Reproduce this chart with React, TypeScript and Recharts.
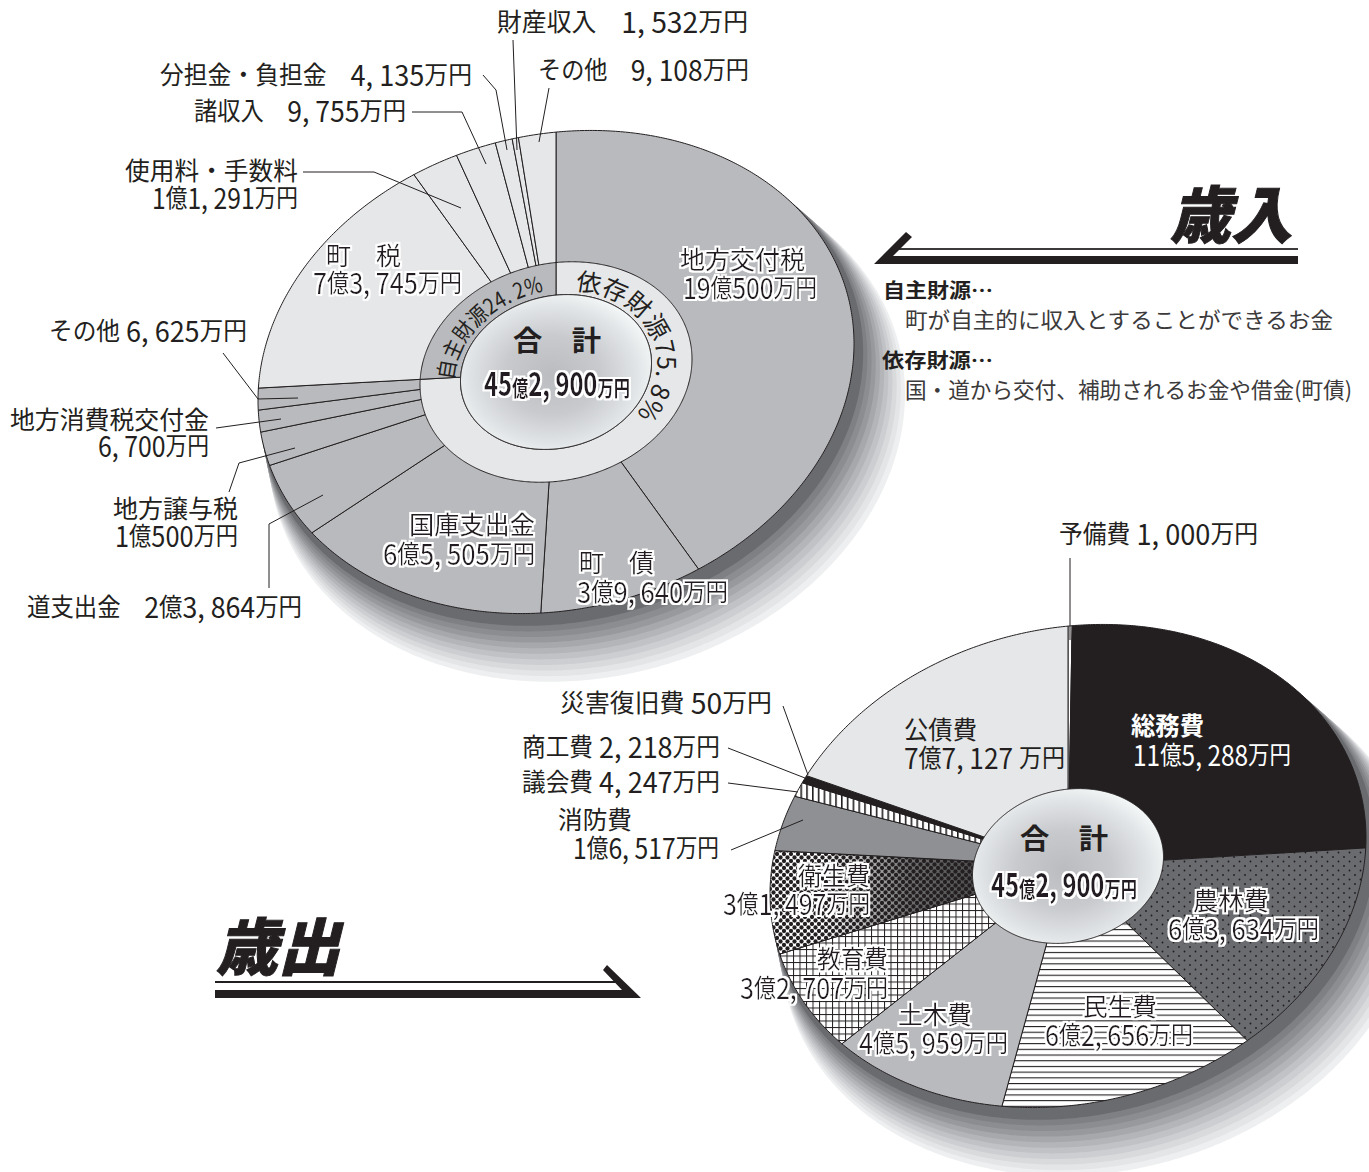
import React from "react";
import { Cell, Pie, PieChart } from "recharts";

const WIDTH = 1369;
const HEIGHT = 1172;
const INK = "#231f20";
const MID = "#b9babd";
const LIGHT = "#e6e7e9";
const FONT = '"Noto Sans CJK JP", "Noto Sans", sans-serif';
const DIGIT_FONT = '"Liberation Sans Narrow", "Noto Sans CJK JP", sans-serif';

// 歳入 (万円)
const revenueNames = ["地方交付税", "町債", "国庫支出金", "道支出金", "地方譲与税", "地方消費税交付金", "その他", "町税", "使用料・手数料", "諸収入", "分担金・負担金", "財産収入", "その他"];
const revenueValues = [190500, 39640, 65505, 23864, 10500, 6700, 6625, 73745, 11291, 9755, 4135, 1532, 9108];
const revenueFills = [MID, MID, MID, MID, MID, MID, MID, LIGHT, LIGHT, LIGHT, LIGHT, LIGHT, LIGHT];

const sourceNames = ["依存財源", "自主財源"];
const sourceValues = [343334, 109566];
const sourceFills = [LIGHT, MID];

// 歳出 (万円)
const spendingNames = ["予備費", "総務費", "農林費", "民生費", "土木費", "教育費", "衛生費", "消防費", "議会費", "商工費", "災害復旧費", "公債費"];
const spendingValues = [1000, 115288, 63634, 62656, 45959, 32707, 31497, 16517, 4247, 2218, 50, 77127];
const spendingFills = ["#ffffff", INK, "url(#speckle)", "url(#hlines)", MID, "url(#grid)", "url(#halftone)", "#8f9094", "url(#vlines)", INK, "#ffffff", LIGHT];

const totalValue = [452900];

const toTable = (names: string[], values: number[]) => values.map((value, i) => ({ name: names[i], value }));

// 傾いた円盤: 縦に潰し、右を上げる向きに剪断する
const SQUASH = 0.805;
const SHEAR = 0.095;
const rad = (d: number) => (d * Math.PI) / 180;

function discPoint(cx: number, cy: number, r: number, clockwise: number) {
  const s = Math.sin(rad(clockwise));
  const c = Math.cos(rad(clockwise));
  return `${(cx + r * s).toFixed(2)} ${(cy - SQUASH * r * c - SHEAR * r * s).toFixed(2)}`;
}

function discArc(cx: number, cy: number, r: number, from: number, to: number) {
  const pts: string[] = [];
  const steps = Math.max(1, Math.ceil(Math.abs(to - from) * 2));
  for (let i = 0; i <= steps; i++) pts.push(discPoint(cx, cy, r, from + ((to - from) * i) / steps));
  return pts;
}

function TiltedSector(props: any) {
  const { cx, cy, innerRadius, outerRadius, startAngle, endAngle, fill, stroke } = props;
  const from = 90 - startAngle;
  const to = 90 - endAngle;
  const whole = to - from >= 359.99;
  const outer = discArc(cx, cy, outerRadius, from, to);
  const inner = innerRadius > 0 ? discArc(cx, cy, innerRadius, to, from) : [`${cx} ${cy}`];
  const pts = whole ? outer : [...outer, ...inner];
  return <path d={`M ${pts.join(" L ")} Z`} fill={fill} stroke={stroke ?? INK} strokeWidth={1} strokeLinejoin="round" />;
}

const shadowBands = ["#eeeff0", "#e4e5e7", "#d9dadc", "#cdced1", "#c1c2c5", "#b4b5b8", "#a6a8ab", "#98999c", "#8b8d90", "#7f8084", "#6a6b6f"];

function DiscShadow({ cx, cy }: { cx: number; cy: number }) {
  return (
    <g>
      {shadowBands.map((color, i) => {
        const t = 1 - (i * 0.82) / (shadowBands.length - 1);
        const pts = discArc(cx + 31 * t, cy + 52 * t, 298 + 20 * t, 0, 360);
        return <path key={color} d={`M ${pts.join(" L ")} Z`} fill={color} />;
      })}
    </g>
  );
}

// 数字は細長い書体で漢字より少し大きく組む
function runs(text: string, size: number, weight: number) {
  const digitSize = size * 1.14;
  const drop = size * 0.09;
  let shifted = false;
  return text.split(/([0-9,. ]*[0-9][0-9,. ]*)/).filter(Boolean).map((part, i) => {
    const isDigits = /[0-9]/.test(part);
    let dy = 0;
    if (isDigits && !shifted) dy = drop;
    if (!isDigits && shifted) dy = -drop;
    shifted = isDigits;
    return (
      <tspan key={i} dy={dy} fontFamily={isDigits ? DIGIT_FONT : FONT} fontSize={isDigits ? digitSize : size} fontWeight={weight}>
        {part}
      </tspan>
    );
  });
}

function Label({ x, y, w, text, size = 25, halo, color = INK, weight = 400 }: any) {
  return (
    <text x={x} y={y} textLength={w} lengthAdjust="spacingAndGlyphs" fill={color} filter={halo ? "url(#halo)" : undefined}>
      {runs(text, size, weight)}
    </text>
  );
}

function Leader({ points }: { points: string }) {
  return <polyline points={points} fill="none" stroke={INK} strokeWidth={1} />;
}

function TotalText({ x, y, w }: { x: number; y: number; w: number }) {
  return (
    <text x={x} y={y} textLength={w} lengthAdjust="spacingAndGlyphs" fontWeight={700} fill={INK} filter="url(#halo)">
      <tspan fontFamily={DIGIT_FONT} fontSize={32}>45</tspan>
      <tspan fontFamily={FONT} fontSize={22}>億</tspan>
      <tspan fontFamily={DIGIT_FONT} fontSize={32}>2, 900</tspan>
      <tspan fontFamily={FONT} fontSize={22}>万円</tspan>
    </text>
  );
}

function Heading({ x, y, w, text }: { x: number; y: number; w: number; text: string }) {
  return (
    <text
      transform={`translate(${x} ${y}) skewX(-14)`}
      textLength={w}
      lengthAdjust="spacingAndGlyphs"
      fontFamily={FONT}
      fontWeight={900}
      fontSize={62}
      fill={INK}
      stroke={INK}
      strokeWidth={1}
    >
      {text}
    </text>
  );
}

export default function App() {
  return (
    <div style={{ position: "absolute", left: 0, top: 0, width: WIDTH, height: HEIGHT, overflow: "hidden", background: "#ffffff" }}>
      <PieChart width={WIDTH} height={HEIGHT} margin={{ top: 0, right: 0, bottom: 0, left: 0 }}>
        <defs>
          <radialGradient id="hub" cx="0.48" cy="0.52" r="0.56">
            <stop offset="0" stopColor="#bbbcbf" />
            <stop offset="0.45" stopColor="#c8cacd" />
            <stop offset="0.8" stopColor="#e2e5e7" />
            <stop offset="1" stopColor="#f5f8f8" />
          </radialGradient>
          <pattern id="speckle" patternUnits="userSpaceOnUse" width="11" height="9">
            <rect width="11" height="9" fill="#6a6b6f" />
            <circle cx="2" cy="2" r="0.9" fill="#1c1a1b" />
            <circle cx="7.5" cy="6.5" r="0.9" fill="#1c1a1b" />
          </pattern>
          <pattern id="hlines" patternUnits="userSpaceOnUse" width="8" height="5.7">
            <rect width="8" height="5.7" fill="#ffffff" />
            <rect width="8" height="1.1" fill={INK} />
          </pattern>
          <pattern id="vlines" patternUnits="userSpaceOnUse" width="5.8" height="8">
            <rect width="5.8" height="8" fill="#ffffff" />
            <rect width="1.6" height="8" fill={INK} />
          </pattern>
          <pattern id="grid" patternUnits="userSpaceOnUse" width="6.5" height="6.5">
            <rect width="6.5" height="6.5" fill="#ffffff" />
            <rect width="6.5" height="1" fill={INK} />
            <rect width="1" height="6.5" fill={INK} />
          </pattern>
          <pattern id="dots" patternUnits="userSpaceOnUse" width="7" height="7">
            <circle cx="0" cy="0" r="2.15" fill={INK} />
            <circle cx="7" cy="0" r="2.15" fill={INK} />
            <circle cx="0" cy="7" r="2.15" fill={INK} />
            <circle cx="7" cy="7" r="2.15" fill={INK} />
            <circle cx="3.5" cy="3.5" r="2.15" fill={INK} />
          </pattern>
          <linearGradient id="fade" x1="0" y1="0" x2="1" y2="0">
            <stop offset="0" stopColor="#ffffff" />
            <stop offset="0.25" stopColor="#ffffff" />
            <stop offset="0.65" stopColor="#6e6e70" />
            <stop offset="1" stopColor="#4a4a4c" />
          </linearGradient>
          <pattern id="halftone" patternUnits="userSpaceOnUse" x="770" y="840" width="215" height="130">
            <rect width="215" height="130" fill="url(#fade)" />
            <rect width="215" height="130" fill="url(#dots)" />
          </pattern>
        </defs>

        <DiscShadow cx={556} cy={372} />
        <DiscShadow cx={1068} cy={866} />

        <Pie data={toTable(revenueNames, revenueValues)} dataKey="value" cx={556} cy={372} innerRadius={0} outerRadius={298} startAngle={90} endAngle={-270} stroke={INK} shape={TiltedSector} isAnimationActive={false}>
          {revenueFills.map((fill, i) => <Cell key={i} fill={fill} />)}
        </Pie>
        <Pie data={toTable(sourceNames, sourceValues)} dataKey="value" cx={556} cy={372} innerRadius={95.5} outerRadius={136} startAngle={90} endAngle={-270} stroke={INK} shape={TiltedSector} isAnimationActive={false}>
          {sourceFills.map((fill, i) => <Cell key={i} fill={fill} />)}
        </Pie>
        <Pie data={toTable(["合計"], totalValue)} dataKey="value" cx={556} cy={372} innerRadius={0} outerRadius={95.5} startAngle={90} endAngle={-270} fill="url(#hub)" stroke={INK} shape={TiltedSector} isAnimationActive={false} />

        <Pie data={toTable(spendingNames, spendingValues)} dataKey="value" cx={1068} cy={866} innerRadius={0} outerRadius={298} startAngle={90} endAngle={-270} stroke={INK} shape={TiltedSector} isAnimationActive={false}>
          {spendingFills.map((fill, i) => <Cell key={i} fill={fill} />)}
        </Pie>
        <Pie data={toTable(["合計"], totalValue)} dataKey="value" cx={1068} cy={866} innerRadius={0} outerRadius={95.5} startAngle={90} endAngle={-270} fill="url(#hub)" stroke={INK} shape={TiltedSector} isAnimationActive={false} />
      </PieChart>

      {/* Pie は子要素の最前面に描かれるので、文字と引き出し線は別の SVG に置く */}
      <svg width={WIDTH} height={HEIGHT} style={{ position: "absolute", left: 0, top: 0, pointerEvents: "none" }}>
        <defs>
          <path id="dependentArc" d={`M ${discArc(556, 372, 101, 11, 135).join(" L ")}`} />
          <path id="ownArc" d={`M ${discArc(556, 372, 102, 271, 356).join(" L ")}`} />
          {/* 字の周りの白い縁取り */}
          <filter id="halo" x="-10%" y="-30%" width="120%" height="160%">
            <feMorphology in="SourceAlpha" operator="dilate" radius="2.2" result="grown" />
            <feFlood floodColor="#ffffff" />
            <feComposite in2="grown" operator="in" result="edge" />
            <feMerge>
              <feMergeNode in="edge" />
              <feMergeNode in="SourceGraphic" />
            </feMerge>
          </filter>
        </defs>

        {/* 歳入の引き出し線 */}
        <Leader points="513,40 517,150" />
        <Leader points="549,88 539,142" />
        <Leader points="483,75 496,90 507,150" />
        <Leader points="412,112 462,112 486,164" />
        <Leader points="303,172 374,172 461,208" />
        <Leader points="223,353 258,399 298,398" />
        <Leader points="216,428 281,419" />
        <Leader points="229,492 239,463 295,448" />
        <Leader points="269,588 269,524 323,495" />

        {/* 歳出の引き出し線 */}
        <Leader points="1070,558 1070,640" />
        <Leader points="783,706 808,775" />
        <Leader points="728,748 805,778" />
        <Leader points="728,783 798,792" />
        <Leader points="731,850 803,820" />

        <Label x={497} y={31} w={251} text="財産収入　1, 532万円" />
        <Label x={538} y={79} w={211} text="その他　9, 108万円" />
        <Label x={160} y={84} w={312} text="分担金・負担金　4, 135万円" />
        <Label x={194} y={120} w={212} text="諸収入　9, 755万円" />
        <Label x={125} y={180} w={173} text="使用料・手数料" />
        <Label x={152} y={207} w={146} text="1億1, 291万円" />
        <Label x={49} y={340} w={198} text="その他 6, 625万円" />
        <Label x={10} y={429} w={199} text="地方消費税交付金" />
        <Label x={98} y={455} w={111} text="6, 700万円" />
        <Label x={113} y={518} w={125} text="地方譲与税" />
        <Label x={115} y={545} w={123} text="1億500万円" />
        <Label x={27} y={616} w={275} text="道支出金　2億3, 864万円" />

        <Label x={326} y={265} w={75} text="町　税" halo />
        <Label x={313} y={292} w={149} text="7億3, 745万円" halo />
        <Label x={680} y={269} w={125} text="地方交付税" halo />
        <Label x={683} y={297} w={134} text="19億500万円" halo />
        <Label x={409} y={534} w={126} text="国庫支出金" halo />
        <Label x={383} y={563} w={152} text="6億5, 505万円" halo />
        <Label x={579} y={572} w={75} text="町　債" halo />
        <Label x={577} y={601} w={151} text="3億9, 640万円" halo />

        <text fontFamily={FONT} fontSize={25} fill={INK}>
          <textPath href="#dependentArc">依存財源75. 8%</textPath>
        </text>
        <text fontFamily={FONT} fontSize={22} fill={INK} textLength={136} lengthAdjust="spacingAndGlyphs">
          <textPath href="#ownArc">自主財源24. 2%</textPath>
        </text>

        <Label x={513} y={351} w={88} text="合　計" size={28} weight={700} />
        <TotalText x={484} y={396} w={146} />

        <Label x={1059} y={543} w={199} text="予備費 1, 000万円" />
        <Label x={560} y={712} w={212} text="災害復旧費 50万円" />
        <Label x={522} y={756} w={198} text="商工費 2, 218万円" />
        <Label x={522} y={791} w={198} text="議会費 4, 247万円" />
        <Label x={558} y={829} w={74} text="消防費" />
        <Label x={573} y={857} w={146} text="1億6, 517万円" />

        <Label x={904} y={739} w={73} text="公債費" />
        <Label x={904} y={767} w={161} text="7億7, 127 万円" />
        <Label x={1131} y={735} w={73} text="総務費" color="#ffffff" weight={700} />
        <Label x={1133} y={764} w={158} text="11億5, 288万円" color="#ffffff" />
        <Label x={1193} y={910} w={76} text="農林費" halo />
        <Label x={1168} y={938} w={151} text="6億3, 634万円" halo />
        <Label x={1083} y={1016} w={74} text="民生費" halo />
        <Label x={1045} y={1044} w={148} text="6億2, 656万円" halo />
        <Label x={898} y={1024} w={74} text="土木費" halo />
        <Label x={859} y={1052} w={149} text="4億5, 959万円" halo />
        <Label x={817} y={968} w={71} text="教育費" halo />
        <Label x={740} y={997} w={148} text="3億2, 707万円" halo />
        <Label x={798} y={885} w={72} text="衛生費" halo />
        <Label x={723} y={913} w={147} text="3億1, 497万円" halo />

        <Label x={1020} y={849} w={88} text="合　計" size={28} weight={700} />
        <TotalText x={991} y={897} w={146} />

        {/* 見出しと矢印 */}
        <Heading x={1170} y={238} w={122} text="歳入" />
        <rect x={893} y={248} width={405} height={2} fill="#3c3a3b" />
        <polygon points="874,264 906,232 912,237 893,256 1298,256 1298,264" fill={INK} />
        <Heading x={216} y={970} w={124} text="歳出" />
        <rect x={215} y={981} width={407} height={2} fill={INK} />
        <polygon points="215,990 622,990 603,970 607,965 641,998 215,998" fill={INK} />

        <Label x={883} y={298} w={110} text="自主財源…" size={20} weight={700} />
        <Label x={905} y={328} w={428} text="町が自主的に収入とすることができるお金" size={22} color="#3c3a3b" />
        <Label x={882} y={368} w={111} text="依存財源…" size={20} weight={700} />
        <Label x={905} y={398} w={447} text="国・道から交付、補助されるお金や借金(町債)" size={22} color="#3c3a3b" />
      </svg>
    </div>
  );
}
